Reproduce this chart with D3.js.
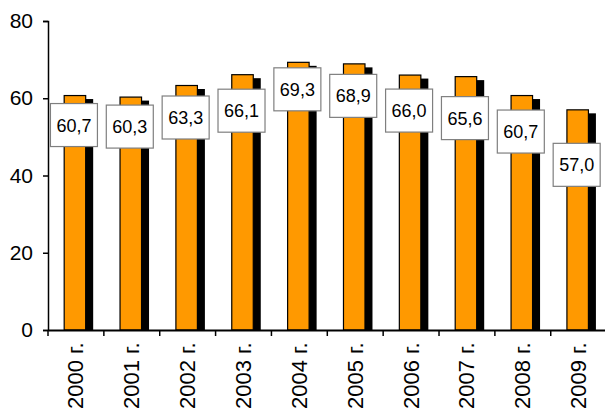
<!DOCTYPE html>
<html>
<head>
<meta charset="utf-8">
<script src="https://cdn.jsdelivr.net/npm/d3@7"></script>
<style>
  html, body { margin: 0; padding: 0; background: #fff; }
  svg { display: block; font-family: Arial, "Liberation Sans", sans-serif; }
</style>
</head>
<body>
<svg id="chart" width="605" height="414"></svg>
<script>
// ---- data ----
const categories = ["2000 г.", "2001 г.", "2002 г.", "2003 г.", "2004 г.", "2005 г.", "2006 г.", "2007 г.", "2008 г.", "2009 г."];
const values = [60.7, 60.3, 63.3, 66.1, 69.3, 68.9, 66.0, 65.6, 60.7, 57.0];
const yTicks = [0, 20, 40, 60, 80];

// ---- layout ----
const plotLeft = 48, plotRight = 606.6, plotTop = 21, plotBottom = 330;
// manual nudges of the data-label boxes below the bar tops (px), as placed in the original
const labelNudge = [29.5, 29.5, 32, 36, 27, 32, 35.5, 41.5, 36, 55];

const svg = d3.select("#chart");
const x = d3.scaleBand().domain(categories).range([plotLeft, plotRight]).padding(0);
const y = d3.scaleLinear().domain([0, 80]).range([plotBottom, plotTop]);

const fmt = v => d3.format(".1f")(v).replace(".", ",");

const barW = 21.5, depthX = 7.5, depthY = 3.5;

const g = svg.append("g");
const items = categories.map((c, i) => ({ c, v: values[i], i }));

// shadow / depth
g.selectAll("rect.shadow").data(items).join("rect")
  .attr("class", "shadow")
  .attr("x", d => x(d.c) + x.bandwidth() / 2 - 1 - barW / 2 + depthX)
  .attr("y", d => y(d.v) + depthY)
  .attr("width", barW)
  .attr("height", d => y(0) - y(d.v) - depthY)
  .attr("fill", "#000");

// front bars
g.selectAll("rect.bar").data(items).join("rect")
  .attr("class", "bar")
  .attr("x", d => x(d.c) + x.bandwidth() / 2 - 1 - barW / 2)
  .attr("y", d => y(d.v))
  .attr("width", barW)
  .attr("height", d => y(0) - y(d.v))
  .attr("fill", "#FF9900")
  .attr("stroke", "#000")
  .attr("stroke-width", 1.2);

// axes
const yAxis = d3.axisLeft(y).tickValues(yTicks).tickSize(5).tickPadding(10);
const ya = svg.append("g").attr("transform", `translate(${plotLeft},0)`).call(yAxis);
ya.select(".domain").attr("stroke", "#000").attr("stroke-width", 1.5);
ya.selectAll(".tick line").attr("stroke", "#000").attr("stroke-width", 1.5);
ya.selectAll(".tick text").attr("font-size", 21).attr("fill", "#000")
  .attr("font-family", "Arial, 'Liberation Sans', sans-serif");

const xAxis = d3.axisBottom(x).tickSize(0).tickFormat(d => d);
const xa = svg.append("g").attr("transform", `translate(0,${plotBottom})`).call(xAxis);
xa.select(".domain").attr("stroke", "#000").attr("stroke-width", 2);
xa.selectAll(".tick text")
  .attr("font-size", 22).attr("fill", "#000")
  .attr("font-family", "Arial, 'Liberation Sans', sans-serif")
  .attr("text-anchor", "end")
  .attr("dy", null)
  .attr("y", 0)
  .attr("transform", "translate(7.5,12.5) rotate(-90)");
// boundary tick marks between categories
xa.selectAll("line.btick").data(d3.range(categories.length + 1)).join("line")
  .attr("class", "btick")
  .attr("x1", i => plotLeft + i * x.bandwidth())
  .attr("x2", i => plotLeft + i * x.bandwidth())
  .attr("y1", 0).attr("y2", 6)
  .attr("stroke", "#000").attr("stroke-width", 1.5);

// data labels
const boxW = 47, boxH = 43;
const lab = svg.append("g").selectAll("g").data(items).join("g")
  .attr("transform", d => `translate(${x(d.c) + x.bandwidth() / 2 - 2},${y(d.v) + labelNudge[d.i]})`);
lab.append("rect")
  .attr("x", -boxW / 2).attr("y", -boxH / 2)
  .attr("width", boxW).attr("height", boxH)
  .attr("fill", "#fff").attr("stroke", "#7f7f7f").attr("stroke-width", 1.2);
lab.append("text")
  .attr("text-anchor", "middle")
  .attr("dy", "0.36em")
  .attr("font-size", 18)
  .attr("fill", "#000")
  .text(d => fmt(d.v));
</script>
</body>
</html>
